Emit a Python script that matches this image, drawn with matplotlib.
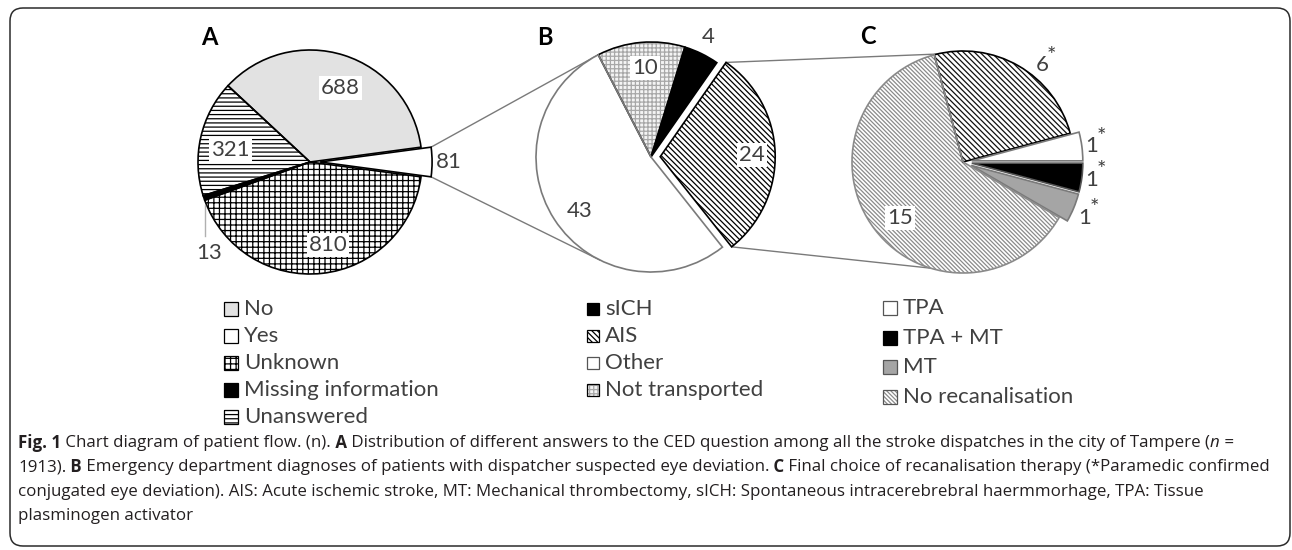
import matplotlib
matplotlib.use("Agg")
import matplotlib.pyplot as plt
from matplotlib.patches import FancyBboxPatch, Rectangle, ConnectionPatch
import numpy as np

W, H, DPI = 1292, 550, 100

# ---------------- data ----------------
a_labels = ["Yes", "Unknown", "Missing information", "Unanswered", "No"]
a_values = [81, 810, 13, 321, 688]
b_labels = ["Not transported", "sICH", "AIS", "Other"]
b_values = [10, 4, 24, 43]
c_labels = ["No recanalisation*", "TPA", "TPA + MT", "MT", "No recanalisation"]
c_values = [6, 1, 1, 1, 15]
c_star = [True, True, True, True, False]

a_legend = ["No", "Yes", "Unknown", "Missing information", "Unanswered"]
b_legend = ["sICH", "AIS", "Other", "Not transported"]
c_legend = ["TPA", "TPA + MT", "MT", "No recanalisation"]

caption_lines = [
    [("Fig. 1", "b"), (" Chart diagram of patient flow. (n).", "n"), (" A", "b"),
     (" Distribution of different answers to the CED question among all the stroke dispatches in the city of Tampere (", "n"),
     ("n", "i"), (" =", "n")],
    [("1913).", "n"), (" B", "b"),
     (" Emergency department diagnoses of patients with dispatcher suspected eye deviation.", "n"),
     (" C", "b"), (" Final choice of recanalisation therapy (*Paramedic confirmed", "n")],
    [("conjugated eye deviation). AIS: Acute ischemic stroke, MT: Mechanical thrombectomy, sICH: Spontaneous intracerebrebral haermmorhage, TPA: Tissue", "n")],
    [("plasminogen activator", "n")],
]

# ---------------- styles ----------------
STYLE = {
    "No": dict(fc="#e2e2e2", ec="black"),
    "Yes": dict(fc="white", ec="black"),
    "Unknown": dict(fc="white", hatch="+++", hc="black", ec="black"),
    "Missing information": dict(fc="black", ec="black"),
    "Unanswered": dict(fc="white", hatch="----", hc="black", ec="black"),
    "Not transported": dict(fc="#f4f4f4", hatch="++++", hc="#a8a8a8", ec="black"),
    "sICH": dict(fc="black", ec="black"),
    "AIS": dict(fc="white", hatch="\\" * 6, hc="black", ec="black"),
    "Other": dict(fc="white", ec="#7a7a7a"),
    "TPA": dict(fc="white", ec="#7a7a7a"),
    "TPA + MT": dict(fc="black", ec="#555555"),
    "MT": dict(fc="#a5a5a5", ec="#7a7a7a"),
    "No recanalisation*": dict(fc="white", hatch="\\" * 6, hc="#111111", ec="black"),
    "No recanalisation": dict(fc="white", hatch="\\" * 8, hc="#8a8a8a", ec="#8a8a8a"),
}
LABEL_COLOR = "#404040"
CHART_FONT = ["Lato", "DejaVu Sans"]
CAP_FONT = ["Open Sans", "DejaVu Sans"]
FS = 16

plt.rcParams["hatch.linewidth"] = 0.9

fig = plt.figure(figsize=(W / DPI, H / DPI), dpi=DPI)
fig.patch.set_facecolor("white")
bg = fig.add_axes([0, 0, 1, 1])
bg.set_xlim(0, W)
bg.set_ylim(H, 0)
bg.axis("off")

# rounded frame
frame = FancyBboxPatch((10, 8), 1280, 538, boxstyle="round,pad=0,rounding_size=13",
                       facecolor="none", edgecolor="#2b2b2b", linewidth=1.1)
bg.add_patch(frame)


def pie_axes(cx, cy, r, L=1.4):
    ax = fig.add_axes([(cx - L * r) / W, (H - cy - L * r) / H, 2 * L * r / W, 2 * L * r / H])
    ax.set_facecolor("none")
    return ax, L


def draw_pie(ax, L, labels, values, start, explode_map):
    explode = [explode_map.get(l, 0) for l in labels]
    fills, _ = ax.pie(values, startangle=start, counterclock=False, explode=explode,
                      radius=1, wedgeprops=dict(linewidth=0))
    for w, l in zip(fills, labels):
        s = STYLE[l]
        w.set_facecolor(s["fc"])
        if s.get("hatch"):
            w.set_hatch(s["hatch"])
            w.set_edgecolor(s["hc"])
        else:
            w.set_edgecolor(s["fc"])
        w.set_linewidth(0)
    outlines, _ = ax.pie(values, startangle=start, counterclock=False, explode=explode,
                         radius=1, wedgeprops=dict(fill=False))
    for w, l in zip(outlines, labels):
        s = STYLE[l]
        w.set_edgecolor(s["ec"])
        w.set_linewidth(1.2)
    ax.set_xlim(-L, L)
    ax.set_ylim(-L, L)
    ax.set_aspect("equal")
    ax.axis("off")
    return fills


def put(ax, x, y, s, box=False, star=False):
    kw = dict(fontsize=FS, color=LABEL_COLOR, ha="center", va="center", family=CHART_FONT)
    if box:
        kw["bbox"] = dict(facecolor="white", edgecolor="none", pad=1.5)
    ax.text(x, y, s, **kw)
    if star:
        ax.annotate("*", xy=(x, y), xytext=(7.0, 7.0), textcoords="offset points",
                    fontsize=FS, color=LABEL_COLOR, ha="center", va="center",
                    family=CHART_FONT)


# ---------------- pie A ----------------
axA, LA = pie_axes(310, 162, 112)
startA = 360 * a_values[0] / sum(a_values) / 2
wA = draw_pie(axA, LA, a_labels, a_values, startA, {"Yes": 0.09})
axA.text(-0.9, 1.11, "A", fontsize=17, fontweight="bold", ha="center", va="center", family=CHART_FONT)
put(axA, 0.27, 0.66, str(a_values[4]), box=True)
put(axA, -0.71, 0.11, str(a_values[3]), box=True)
put(axA, 0.16, -0.74, str(a_values[1]), box=True)
put(axA, 1.24, 0.0, str(a_values[0]))
put(axA, -0.90, -0.81, str(a_values[2]))
axA.plot([-0.94, -0.94], [-0.38, -0.66], color="#b0b0b0", lw=1)

# ---------------- pie B ----------------
axB, LB = pie_axes(651, 157, 115)
wB = draw_pie(axB, LB, b_labels, b_values, 117.3, {"AIS": 0.08})
axB.text(-0.92, 1.04, "B", fontsize=17, fontweight="bold", ha="center", va="center", family=CHART_FONT)
put(axB, -0.05, 0.77, str(b_values[0]), box=True)
put(axB, 0.50, 1.04, str(b_values[1]))
put(axB, 0.88, 0.02, str(b_values[2]), box=True)
put(axB, -0.62, -0.47, str(b_values[3]))

# ---------------- pie C ----------------
axC, LC = pie_axes(963, 162, 111)
wC = draw_pie(axC, LC, c_labels, c_values, 105, {"TPA": 0.08, "TPA + MT": 0.08, "MT": 0.08})
axC.text(-0.86, 1.13, "C", fontsize=17, fontweight="bold", ha="center", va="center", family=CHART_FONT)
c_pos = [(0.71, 0.87), (1.16, 0.14), (1.16, -0.16), (1.10, -0.50), (-0.57, -0.50)]
for (x, y), v, st in zip(c_pos, c_values, c_star):
    put(axC, x, y, str(v), box=not st, star=st)


# ---------------- connectors ----------------
def edge_pt(w, theta):
    cx, cy = w.center
    t = np.deg2rad(theta)
    return (cx + w.r * np.cos(t), cy + w.r * np.sin(t))


def circ_pt(theta):
    t = np.deg2rad(theta)
    return (np.cos(t), np.sin(t))


yes_w = wA[0]
ais_w = wB[2]
conns = [
    (axA, edge_pt(yes_w, yes_w.theta2), axB, circ_pt(wB[0].theta2)),
    (axA, edge_pt(yes_w, yes_w.theta1), axB, circ_pt(-116)),
    (axB, edge_pt(ais_w, ais_w.theta2), axC, circ_pt(103.5)),
    (axB, edge_pt(ais_w, ais_w.theta1), axC, circ_pt(-107)),
]
for a1, p1, a2, p2 in conns:
    con = ConnectionPatch(xyA=p1, coordsA=a1.transData, xyB=p2, coordsB=a2.transData,
                          color="#7a7a7a", lw=1.0, zorder=-1)
    fig.add_artist(con)


# ---------------- legends ----------------
def draw_legend(x, y0, dy, labels, size=14, gap=8):
    for i, l in enumerate(labels):
        y = y0 + i * dy
        s = STYLE[l]
        fill = Rectangle((x, y - size / 2), size, size, facecolor=s["fc"], linewidth=0,
                         edgecolor=s.get("hc", s["fc"]), hatch=s.get("hatch"))
        bg.add_patch(fill)
        ec = "black" if s["ec"] in ("black", "#555555") else "#555555"
        bg.add_patch(Rectangle((x, y - size / 2), size, size, fill=False, edgecolor=ec, linewidth=0.9))
        bg.text(x + size + gap - 2, y, l.rstrip("*"), fontsize=FS, color=LABEL_COLOR, ha="left", va="center",
                family=CHART_FONT)


draw_legend(224, 309, 27, a_legend, size=14)
draw_legend(587, 309, 27, b_legend, size=12)
draw_legend(883, 308, 29.7, c_legend, size=14)

# ---------------- caption ----------------
renderer = fig.canvas.get_renderer()


def draw_line(segs, x0, y, size):
    x = x0
    arts = []
    for txt, st in segs:
        t = bg.text(x, y, txt, fontsize=size, family=CAP_FONT,
                    fontweight="bold" if st == "b" else "normal",
                    fontstyle="italic" if st == "i" else "normal",
                    color="#231f20", ha="left", va="center")
        bb = t.get_window_extent(renderer=renderer)
        x += bb.width
        arts.append(t)
    return x, arts


x_end, tmp = draw_line(caption_lines[1], 18, 467, 11.5)
for t in tmp:
    t.remove()
cap_size = 11.5 * (1270 - 18) / (x_end - 18)
for i, segs in enumerate(caption_lines):
    draw_line(segs, 18, 443 + 24.3 * i, cap_size)

fig.savefig("out.png", dpi=DPI)
